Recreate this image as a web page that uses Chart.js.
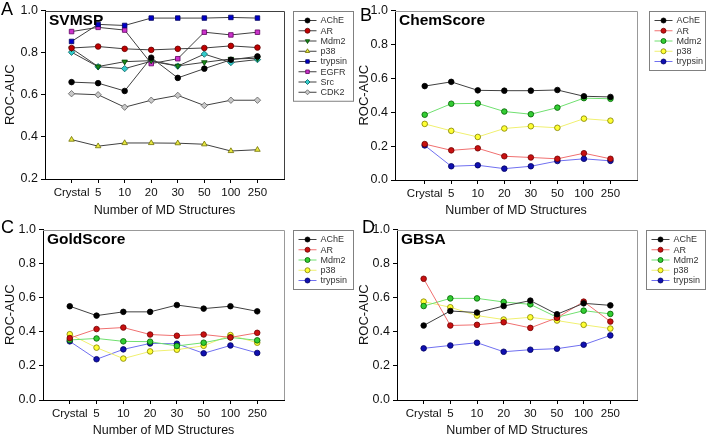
<!DOCTYPE html>
<html>
<head>
<meta charset="utf-8">
<script src="https://cdn.jsdelivr.net/npm/chart.js@4/dist/chart.umd.min.js"></script>
<style>
  body { margin: 0; background: #fff; }
  #wrap { position: relative; width: 708px; height: 439px; }
  canvas { position: absolute; }
</style>
</head>
<body>
<div id="wrap">
  <canvas id="chartA" width="354" height="219" style="left:0;top:0"></canvas>
  <canvas id="chartB" width="354" height="219" style="left:354px;top:0"></canvas>
  <canvas id="chartC" width="354" height="220" style="left:0;top:219px"></canvas>
  <canvas id="chartD" width="354" height="220" style="left:354px;top:219px"></canvas>
</div>
<script>
// x categories (number of MD structures)
const categories = ['Crystal', '5', '10', '20', '30', '50', '100', '250'];
const targetsA = ['AChE', 'AR', 'Mdm2', 'p38', 'trypsin', 'EGFR', 'Src', 'CDK2'];
const targets = ['AChE', 'AR', 'Mdm2', 'p38', 'trypsin'];

// A: SVMSP
const svmspAChE    = [0.660, 0.655, 0.618, 0.776, 0.680, 0.724, 0.766, 0.782];
const svmspAR      = [0.822, 0.829, 0.818, 0.813, 0.818, 0.822, 0.832, 0.824];
const svmspMdm2    = [0.820, 0.734, 0.757, 0.762, 0.737, 0.754, 0.770, 0.773];
const svmspP38     = [0.387, 0.356, 0.371, 0.371, 0.370, 0.365, 0.333, 0.339];
const svmspTrypsin = [0.853, 0.934, 0.929, 0.964, 0.964, 0.964, 0.967, 0.964];
const svmspEGFR    = [0.900, 0.920, 0.907, 0.748, 0.771, 0.897, 0.884, 0.897];
const svmspSrc     = [0.802, 0.733, 0.724, 0.759, 0.736, 0.793, 0.753, 0.767];
const svmspCDK2    = [0.605, 0.600, 0.541, 0.574, 0.597, 0.549, 0.574, 0.574];

// B: ChemScore
const chemAChE    = [0.554, 0.579, 0.529, 0.527, 0.527, 0.531, 0.494, 0.490];
const chemAR      = [0.212, 0.175, 0.187, 0.140, 0.133, 0.125, 0.158, 0.125];
const chemMdm2    = [0.385, 0.450, 0.452, 0.404, 0.388, 0.427, 0.483, 0.479];
const chemP38     = [0.331, 0.290, 0.254, 0.304, 0.317, 0.308, 0.362, 0.350];
const chemTrypsin = [0.204, 0.081, 0.087, 0.067, 0.081, 0.112, 0.125, 0.113];

// C: GoldScore
const goldAChE    = [0.550, 0.495, 0.517, 0.517, 0.557, 0.536, 0.550, 0.520];
const goldAR      = [0.363, 0.416, 0.425, 0.384, 0.377, 0.384, 0.367, 0.394];
const goldMdm2    = [0.352, 0.361, 0.344, 0.342, 0.317, 0.336, 0.367, 0.350];
const goldP38     = [0.386, 0.307, 0.243, 0.285, 0.295, 0.318, 0.381, 0.336];
const goldTrypsin = [0.344, 0.239, 0.297, 0.332, 0.330, 0.274, 0.320, 0.276];

// D: GBSA
const gbsaAChE    = [0.437, 0.522, 0.513, 0.551, 0.583, 0.503, 0.567, 0.555];
const gbsaAR      = [0.711, 0.437, 0.441, 0.456, 0.423, 0.482, 0.577, 0.460];
const gbsaMdm2    = [0.551, 0.596, 0.596, 0.575, 0.561, 0.485, 0.524, 0.505];
const gbsaP38     = [0.577, 0.544, 0.495, 0.472, 0.485, 0.466, 0.441, 0.419];
const gbsaTrypsin = [0.303, 0.320, 0.336, 0.283, 0.295, 0.301, 0.324, 0.379];

const yTicksA = [0.2, 0.4, 0.6, 0.8, 1.0];
const yTicks = [0.0, 0.2, 0.4, 0.6, 0.8, 1.0];

Chart.defaults.font.family = 'Arial, "Liberation Sans", sans-serif';
Chart.defaults.color = '#111';

// marker styles for panel A (SigmaPlot-ish, dark lines)
const stylesA = [
  { pointStyle: 'circle',   fill: '#000000', edge: '#000000', rot: 0 },
  { pointStyle: 'circle',   fill: '#c00000', edge: '#600000', rot: 0 },
  { pointStyle: 'triangle', fill: '#1a8c1a', edge: '#004000', rot: 180 },
  { pointStyle: 'triangle', fill: '#e8e840', edge: '#707000', rot: 0 },
  { pointStyle: 'rect',     fill: '#0000cc', edge: '#000060', rot: 0 },
  { pointStyle: 'rect',     fill: '#cc33cc', edge: '#600060', rot: 0 },
  { pointStyle: 'rectRot',  fill: '#33cccc', edge: '#006060', rot: 0 },
  { pointStyle: 'rectRot',  fill: '#c8c8c8', edge: '#606060', rot: 0 }
];
// panels B-D: coloured lines, circle markers
const stylesB = [
  { line: '#404040', fill: '#000000', edge: '#000000' },
  { line: '#f07070', fill: '#c81010', edge: '#700000' },
  { line: '#70e070', fill: '#33cc33', edge: '#006000' },
  { line: '#f0f070', fill: '#ffff33', edge: '#808000' },
  { line: '#7070f0', fill: '#1010b0', edge: '#000060' }
];

function datasetsA(names, series) {
  return names.map((n, i) => ({
    label: n,
    data: series[i].map((v, k) => ({ x: k, y: v })),
    borderColor: '#404040',
    borderWidth: 1,
    pointStyle: stylesA[i].pointStyle,
    pointRotation: stylesA[i].rot,
    pointRadius: stylesA[i].pointStyle === 'circle' ? 2.8 : 3.2,
    pointBackgroundColor: stylesA[i].fill,
    pointBorderColor: stylesA[i].edge,
    pointBorderWidth: 0.8
  }));
}

function datasetsB(names, series) {
  return names.map((n, i) => ({
    label: n,
    data: series[i].map((v, k) => ({ x: k, y: v })),
    borderColor: stylesB[i].line,
    borderWidth: 1,
    pointStyle: 'circle',
    pointRotation: 0,
    pointRadius: 2.8,
    pointBackgroundColor: stylesB[i].fill,
    pointBorderColor: stylesB[i].edge,
    pointBorderWidth: 0.8
  }));
}

// frame, inner title, panel letter and boxed legend
const panelPlugin = {
  id: 'panel',
  afterDraw(chart, args, o) {
    const ctx = chart.ctx;
    const a = chart.chartArea;
    ctx.save();
    ctx.strokeStyle = o.frameColor;
    ctx.lineWidth = 1;
    ctx.beginPath();
    ctx.moveTo(a.left, Math.round(a.top) + 0.5);
    ctx.lineTo(Math.round(a.right) + 0.5, Math.round(a.top) + 0.5);
    ctx.lineTo(Math.round(a.right) + 0.5, a.bottom);
    ctx.stroke();

    ctx.fillStyle = '#000';
    ctx.textBaseline = 'alphabetic';
    ctx.font = 'bold 15.5px Arial, "Liberation Sans", sans-serif';
    ctx.fillText(o.title, a.left + 4, a.top + 14);
    ctx.font = '18px Arial, "Liberation Sans", sans-serif';
    ctx.fillText(o.letter, o.letterX, o.letterY);

    // legend box
    const dsets = chart.data.datasets;
    const bx = Math.round(a.right + o.legendGap) + 0.5;
    const by = Math.round(a.top) + 0.5;
    const bh = 18 + (dsets.length - 1) * 10.25;
    ctx.strokeStyle = '#808080';
    ctx.strokeRect(bx, by, o.legendWidth, bh);
    ctx.font = '9px Arial, "Liberation Sans", sans-serif';
    ctx.textBaseline = 'middle';
    dsets.forEach((d, i) => {
      const y = by + 9 + i * 10.25;
      ctx.strokeStyle = d.borderColor;
      ctx.lineWidth = 1;
      ctx.beginPath();
      ctx.moveTo(bx + 5, y);
      ctx.lineTo(bx + 23, y);
      ctx.stroke();
      ctx.fillStyle = d.pointBackgroundColor;
      ctx.strokeStyle = d.pointBorderColor;
      ctx.lineWidth = 0.8;
      Chart.helpers.drawPoint(ctx, {
        pointStyle: d.pointStyle,
        radius: 2.5,
        rotation: d.pointRotation || 0,
        borderWidth: 0.8
      }, bx + 14, y);
      ctx.fillStyle = '#333';
      ctx.fillText(d.label, bx + 27, y + 0.5);
    });
    ctx.restore();
  }
};

function makePanel(id, datasets, g) {
  const canvas = document.getElementById(id);
  const W = canvas.width, H = canvas.height;
  return new Chart(canvas.getContext('2d'), {
    type: 'line',
    data: { datasets: datasets },
    plugins: [panelPlugin],
    options: {
      responsive: false,
      animation: false,
      layout: { padding: { top: g.top, right: W - g.right, left: 0, bottom: 0 } },
      plugins: {
        legend: { display: false },
        tooltip: { enabled: false },
        panel: {
          title: g.title, letter: g.letter, letterX: g.letterX, letterY: g.letterY,
          frameColor: g.frameColor, legendGap: g.legendGap, legendWidth: g.legendWidth
        }
      },
      scales: {
        x: {
          type: 'linear',
          min: g.xMin,
          max: 8,
          afterBuildTicks: s => { s.ticks = categories.map((c, i) => ({ value: i })); },
          afterFit: s => { s.height = H - g.bottom; },
          ticks: {
            autoSkip: false,
            maxRotation: 0,
            padding: 3,
            font: { size: 11.5 },
            callback: v => categories[v] ?? ''
          },
          grid: { drawOnChartArea: false, tickLength: 4, color: '#000' },
          border: { color: '#000' },
          title: { display: true, text: 'Number of MD Structures', font: { size: 12.5 }, padding: { top: 0, bottom: 1 } }
        },
        y: {
          min: g.yTicks[0],
          max: g.yTicks[g.yTicks.length - 1],
          afterBuildTicks: s => { s.ticks = g.yTicks.map(v => ({ value: v })); },
          afterFit: s => { s.width = g.left; },
          ticks: {
            padding: 3,
            font: { size: 12.5 },
            callback: v => Number(v).toFixed(1)
          },
          grid: { drawOnChartArea: false, tickLength: 4, color: '#000' },
          border: { color: '#000' },
          title: { display: true, text: 'ROC-AUC', font: { size: 13 }, padding: { top: 3, bottom: 0 } }
        }
      }
    }
  });
}

makePanel('chartA',
  datasetsA(targetsA, [svmspAChE, svmspAR, svmspMdm2, svmspP38, svmspTrypsin, svmspEGFR, svmspSrc, svmspCDK2]),
  { title: 'SVMSP', letter: 'A', letterX: 1, letterY: 15, top: 7, left: 45, right: 284, bottom: 179,
    xMin: -1, yTicks: yTicksA, frameColor: '#404040', legendGap: 9, legendWidth: 60 });

makePanel('chartB',
  datasetsB(targets, [chemAChE, chemAR, chemMdm2, chemP38, chemTrypsin]),
  { title: 'ChemScore', letter: 'B', letterX: 6, letterY: 21, top: 7, left: 41, right: 283, bottom: 180,
    xMin: -1.12, yTicks: yTicks, frameColor: '#999999', legendGap: 12, legendWidth: 56 });

makePanel('chartC',
  datasetsB(targets, [goldAChE, goldAR, goldMdm2, goldP38, goldTrypsin]),
  { title: 'GoldScore', letter: 'C', letterX: 1, letterY: 14, top: 9, left: 43, right: 284, bottom: 181,
    xMin: -1, yTicks: yTicks, frameColor: '#999999', legendGap: 9, legendWidth: 60 });

makePanel('chartD',
  datasetsB(targets, [gbsaAChE, gbsaAR, gbsaMdm2, gbsaP38, gbsaTrypsin]),
  { title: 'GBSA', letter: 'D', letterX: 8, letterY: 14, top: 10, left: 43, right: 283, bottom: 181,
    xMin: -1, yTicks: yTicks, frameColor: '#999999', legendGap: 9, legendWidth: 59 });
</script>
</body>
</html>
